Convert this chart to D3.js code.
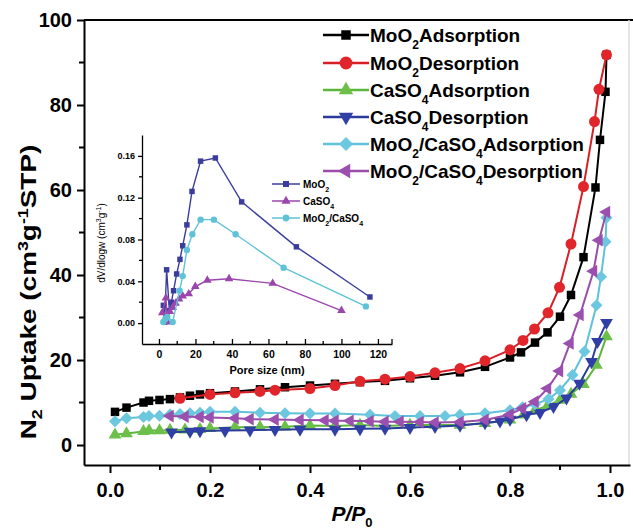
<!DOCTYPE html>
<html><head><meta charset="utf-8">
<script src="https://cdn.jsdelivr.net/npm/d3@7"></script>
<style>
html,body{margin:0;padding:0;background:#fff;}
svg{display:block;font-family:"Liberation Sans",Arial,sans-serif;font-weight:bold;}
</style></head>
<body>
<svg id="chart" width="633" height="529"></svg>
<script>
// ---- main isotherm data ----
const moo2AdsP = [0.01,0.033,0.067,0.078,0.099,0.12,0.14,0.16,0.18,0.2,0.25,0.3,0.35,0.4,0.45,0.5,0.55,0.6,0.65,0.7,0.75,0.8,0.822,0.85,0.875,0.9,0.922,0.947,0.971,0.98,0.991,0.993];
const moo2AdsV = [7.8,8.8,10.0,10.4,10.6,10.8,11.2,11.6,11.9,12.2,12.6,13.1,13.6,14.0,14.4,14.8,15.1,15.7,16.3,17.1,18.4,20.6,21.8,24.1,26.5,30.2,35.3,44.2,60.6,71.8,83.1,91.8];
const moo2DesP = [0.993,0.978,0.969,0.947,0.922,0.899,0.876,0.849,0.826,0.8,0.75,0.7,0.65,0.6,0.55,0.5,0.45,0.4,0.33,0.3,0.25,0.2,0.14];
const moo2DesV = [91.8,83.7,76.1,60.8,47.3,37.1,31.1,27.3,24.6,22.4,19.8,18.0,17.0,16.1,15.5,15.0,14.0,13.3,12.9,12.6,12.3,11.9,11.0];
const caAdsP = [0.01,0.033,0.067,0.078,0.099,0.12,0.15,0.18,0.2,0.25,0.3,0.35,0.4,0.45,0.5,0.55,0.6,0.65,0.7,0.75,0.8,0.827,0.85,0.875,0.9,0.922,0.947,0.973,0.993];
const caAdsV = [2.4,2.7,3.2,3.4,3.4,3.5,3.6,3.7,3.9,4.2,4.2,4.3,4.6,4.5,4.7,4.5,4.7,4.7,4.7,5.1,5.9,7.1,8.2,9.2,10.6,12.0,14.3,18.8,25.5];
const caDesP = [0.993,0.975,0.963,0.939,0.913,0.887,0.86,0.833,0.8,0.78,0.75,0.7,0.65,0.6,0.55,0.5,0.45,0.38,0.33,0.28,0.23,0.18,0.16,0.123];
const caDesV = [28.8,24.3,19.6,14.5,11.0,9.0,7.6,7.1,6.0,5.6,5.2,4.6,4.3,4.1,3.9,3.8,3.7,3.7,3.6,3.5,3.4,3.3,3.2,3.0];
const mixAdsP = [0.01,0.033,0.067,0.078,0.099,0.12,0.14,0.16,0.18,0.2,0.25,0.3,0.35,0.4,0.45,0.52,0.57,0.62,0.67,0.7,0.75,0.8,0.825,0.85,0.877,0.9,0.925,0.949,0.973,0.982,0.991,0.993];
const mixAdsV = [5.6,6.3,6.6,6.8,6.9,7.2,7.3,7.5,7.6,7.8,7.8,7.6,7.5,7.4,7.4,7.1,6.8,6.8,6.8,7.1,7.5,8.2,8.9,9.6,10.8,12.9,16.5,22.0,32.9,39.6,47.8,53.5];
const mixDesP = [0.993,0.978,0.967,0.94,0.92,0.899,0.875,0.85,0.825,0.8,0.75,0.7,0.65,0.62,0.58,0.55,0.52,0.48,0.45,0.43,0.38,0.33,0.28,0.25,0.2,0.18,0.15,0.12];
const mixDesV = [54.8,48.2,40.9,30.6,23.9,17.4,13.3,10.2,8.6,7.2,5.9,5.4,5.3,5.4,5.5,5.5,5.6,5.7,5.7,5.8,5.9,6.0,6.1,6.3,6.5,6.6,6.7,6.8];

// ---- inset pore size distribution data ----
const insetMoO2X = [2.4,3.1,4.2,5.7,6.8,8.0,9.7,11.5,13.0,15.3,18.1,22.8,30.9,45.3,75.3,115.6];
const insetMoO2Y = [0.017,0.001,0.051,0.012,0.020,0.031,0.047,0.061,0.074,0.094,0.126,0.155,0.158,0.116,0.073,0.025];
const insetCaX = [1.8,3.8,4.6,6.0,7.5,9.1,11.0,13.0,16.3,19.9,26.5,38.4,62.3,100];
const insetCaY = [0.010,0.024,0.001,0.011,0.015,0.019,0.023,0.026,0.028,0.035,0.041,0.0425,0.038,0.012];
const insetMixX = [2.4,3.5,4.6,7.5,11.3,13.0,15.3,18.3,22.8,30.1,42.0,68.3,113.4];
const insetMixY = [0.001,0.004,0.006,0.001,0.031,0.045,0.070,0.085,0.099,0.099,0.085,0.053,0.016];

// ---- ticks ----
const xTicks = [0,0.2,0.4,0.6,0.8,1.0];
const xMinor = [0.1,0.3,0.5,0.7,0.9];
const yTicks = [0,20,40,60,80,100];
const yMinor = [10,30,50,70,90];
const inXTicks = [0,20,40,60,80,100,120];
const inXMinor = [10,30,50,70,90,110];
const inYTicks = [0,0.04,0.08,0.12,0.16];
const inYMinor = [0.02,0.06,0.10,0.14];

const svg = d3.select("#chart");
const x = d3.scaleLinear().domain([-0.052,1.04]).range([84,630]);
const y = d3.scaleLinear().domain([-4.7,100]).range([465,20]);

// frame
svg.append("line").attr("x1",84).attr("x2",633).attr("y1",20).attr("y2",20).attr("stroke","#000").attr("stroke-width",2);
svg.append("line").attr("x1",629).attr("x2",629).attr("y1",20).attr("y2",465).attr("stroke","#ddd").attr("stroke-width",1.5);

const gx = svg.append("g").attr("transform","translate(0,465)")
  .call(d3.axisBottom(x).tickValues(xTicks).tickFormat(d3.format(".1f")).tickSize(8).tickSizeOuter(0).tickPadding(10));
gx.selectAll(".tick text").attr("font-size",20).attr("font-family","Liberation Sans, Arial").attr("font-weight","bold").attr("fill","#000");
gx.selectAll("line,path").attr("stroke","#000").attr("stroke-width",2);
gx.selectAll(".minor").data(xMinor).enter().append("line").attr("x1",d=>x(d)).attr("x2",d=>x(d)).attr("y1",0).attr("y2",5).attr("stroke","#000").attr("stroke-width",2);

const gy = svg.append("g").attr("transform","translate(84,0)")
  .call(d3.axisLeft(y).tickValues(yTicks).tickSize(7).tickSizeOuter(0).tickPadding(5));
gy.selectAll(".tick text").attr("font-size",20).attr("font-family","Liberation Sans, Arial").attr("font-weight","bold").attr("fill","#000");
gy.selectAll("line,path").attr("stroke","#000").attr("stroke-width",2);
gy.selectAll(".minor").data(yMinor).enter().append("line").attr("x1",0).attr("x2",-5).attr("y1",d=>y(d)).attr("y2",d=>y(d)).attr("stroke","#000").attr("stroke-width",2);

// axis titles
const yt = svg.append("text").attr("transform","translate(36,292) rotate(-90) scale(1.27,1)").attr("text-anchor","middle").attr("font-size",22);
yt.append("tspan").text("N");
yt.append("tspan").text("2").attr("font-size",14).attr("dy",6);
yt.append("tspan").text(" Uptake (cm").attr("dy",-6);
yt.append("tspan").text("3").attr("font-size",14).attr("dy",-8);
yt.append("tspan").text("g").attr("dy",8);
yt.append("tspan").text("-1").attr("font-size",14).attr("dy",-8);
yt.append("tspan").text("STP)").attr("dy",8);

const xt = svg.append("text").attr("x",352).attr("y",521).attr("text-anchor","middle").attr("font-size",21).attr("font-style","italic");
xt.append("tspan").text("P/P");
xt.append("tspan").text("0").attr("font-size",13).attr("dy",6).attr("font-style","normal");

// symbols
function sym(type,size,rot){
  return {path:d3.symbol().type(type).size(size)(), rot:rot||0};
}
const series = [
  {name:["MoO","2","Adsorption"], P:moo2AdsP, V:moo2AdsV, color:"#000000", fill:"#000000", s:sym(d3.symbolSquare,72)},
  {name:["MoO","2","Desorption"], P:moo2DesP, V:moo2DesV, color:"#d91f26", fill:"#e0262b", s:sym(d3.symbolCircle,95)},
  {name:["CaSO","4","Adsorption"], P:caAdsP, V:caAdsV, color:"#5cb63c", fill:"#6cc04a", s:sym(d3.symbolTriangle,70)},
  {name:["CaSO","4","Desorption"], P:caDesP, V:caDesV, color:"#2b3b9c", fill:"#2f3fa6", s:sym(d3.symbolTriangle,70,180)},
  {name:["MoO","2","/CaSO","4","Adsorption"], P:mixAdsP, V:mixAdsV, color:"#5fc1da", fill:"#6cc7df", s:sym(d3.symbolSquare,72,45)},
  {name:["MoO","2","/CaSO","4","Desorption"], P:mixDesP, V:mixDesV, color:"#9a4ca9", fill:"#9b4fae", s:sym(d3.symbolTriangle,70,-90)}
];
const line = d3.line();
series.forEach(s=>{
  const pts = s.P.map((p,i)=>[x(p),y(s.V[i])]);
  svg.append("path").attr("d",line(pts)).attr("fill","none").attr("stroke",s.color).attr("stroke-width",2);
  svg.append("g").selectAll("path").data(pts).enter().append("path")
    .attr("d",s.s.path).attr("transform",d=>`translate(${d[0]},${d[1]}) rotate(${s.s.rot})`)
    .attr("fill",s.fill);
});

// legend
const legY = [35,63,90,117,144,171];
series.forEach((s,i)=>{
  const g = svg.append("g").attr("transform",`translate(0,${legY[i]})`);
  g.append("line").attr("x1",323).attr("x2",369).attr("y1",0).attr("y2",0).attr("stroke",s.color).attr("stroke-width",2.5);
  g.append("path").attr("d",d3.symbol().type(i==1?d3.symbolCircle:(i==0||i==4?d3.symbolSquare:d3.symbolTriangle)).size(i==1?130:(i==4?100:90))())
    .attr("transform",`translate(346,0) rotate(${s.s.rot})`).attr("fill",s.fill);
  const t = g.append("text").attr("x",370).attr("y",7).attr("font-size",19);
  s.name.forEach((part,j)=>{
    if(j%2===1){ t.append("tspan").text(part).attr("font-size",12).attr("dy",7); }
    else { const ts=t.append("tspan").text(part); if(j>0) ts.attr("dy",-7); }
  });
});

// ---- inset ----
const ix = d3.scaleLinear().domain([-9.3,127.7]).range([142,392]);
const iy = d3.scaleLinear().domain([-0.02,0.18]).range([344,135]);
const gix = svg.append("g").attr("transform","translate(0,344)")
  .call(d3.axisBottom(ix).tickValues(inXTicks).tickFormat(d3.format("d")).tickSize(-5).tickSizeOuter(0).tickPadding(5));
gix.selectAll(".tick text").attr("font-size",10.5).attr("font-family","Liberation Sans, Arial").attr("font-weight","bold").attr("fill","#000").attr("dy","0.85em");
gix.selectAll("line,path").attr("stroke","#000").attr("stroke-width",1.3);
gix.selectAll(".minor").data(inXMinor).enter().append("line").attr("x1",d=>ix(d)).attr("x2",d=>ix(d)).attr("y1",0).attr("y2",-3).attr("stroke","#000").attr("stroke-width",1.3);
svg.append("line").attr("x1",392).attr("x2",392).attr("y1",344).attr("y2",339).attr("stroke","#000").attr("stroke-width",1.3);

const giy = svg.append("g").attr("transform","translate(142,0)")
  .call(d3.axisLeft(iy).tickValues(inYTicks).tickFormat(d3.format(".2f")).tickSize(4).tickSizeOuter(0).tickPadding(3));
giy.selectAll(".tick text").attr("font-size",9).attr("font-family","Liberation Sans, Arial").attr("font-weight","bold").attr("fill","#000");
giy.selectAll("line,path").attr("stroke","#000").attr("stroke-width",1.3);
giy.selectAll(".minor").data(inYMinor).enter().append("line").attr("x1",0).attr("x2",-3).attr("y1",d=>iy(d)).attr("y2",d=>iy(d)).attr("stroke","#000").attr("stroke-width",1.3);

svg.append("text").attr("x",267).attr("y",374).attr("text-anchor","middle").attr("font-size",11).text("Pore size (nm)");
const iyt = svg.append("text").attr("transform","translate(105,243) rotate(-90)").attr("text-anchor","middle").attr("font-size",10).attr("font-weight","normal");
iyt.append("tspan").text("dV/dlogw (cm");
iyt.append("tspan").text("3").attr("font-size",7).attr("dy",-4);
iyt.append("tspan").text("g").attr("dy",4);
iyt.append("tspan").text("-1").attr("font-size",7).attr("dy",-4);
iyt.append("tspan").text(")").attr("dy",4);

const inset = [
  {name:["MoO","2"], X:insetMoO2X, Y:insetMoO2Y, color:"#3b3d9c", sym:d3.symbolSquare, size:30, rot:0},
  {name:["CaSO","4"], X:insetCaX, Y:insetCaY, color:"#9a46ad", sym:d3.symbolTriangle, size:32, rot:0},
  {name:["MoO","2","/CaSO","4"], X:insetMixX, Y:insetMixY, color:"#5ec3d6", sym:d3.symbolCircle, size:32, rot:0}
];
inset.forEach(s=>{
  const pts = s.X.map((v,i)=>[ix(v),iy(s.Y[i])]);
  svg.append("path").attr("d",line(pts)).attr("fill","none").attr("stroke",s.color).attr("stroke-width",1.4);
  svg.append("g").selectAll("path").data(pts).enter().append("path")
    .attr("d",d3.symbol().type(s.sym).size(s.size)()).attr("transform",d=>`translate(${d[0]},${d[1]})`).attr("fill",s.color);
});
const inLegY = [184,201,218];
inset.forEach((s,i)=>{
  const g = svg.append("g").attr("transform",`translate(0,${inLegY[i]})`);
  g.append("line").attr("x1",272).attr("x2",300).attr("y1",0).attr("y2",0).attr("stroke",s.color).attr("stroke-width",1.5);
  g.append("path").attr("d",d3.symbol().type(s.sym).size(36)()).attr("transform","translate(286,0)").attr("fill",s.color);
  const t = g.append("text").attr("x",303).attr("y",4).attr("font-size",10);
  s.name.forEach((part,j)=>{
    if(j%2===1){ t.append("tspan").text(part).attr("font-size",7).attr("dy",4); }
    else { const ts=t.append("tspan").text(part); if(j>0) ts.attr("dy",-4); }
  });
});
</script>
</body></html>
